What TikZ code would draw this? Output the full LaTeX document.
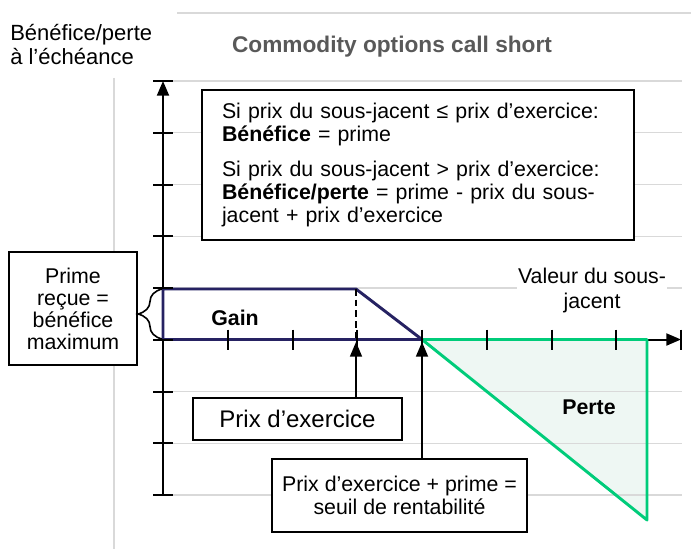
\documentclass[tikz,border=0pt]{standalone}
\usepackage{fontspec}
\setmainfont{Liberation Sans}
\usetikzlibrary{arrows.meta, calc, positioning, decorations.pathreplacing}
\definecolor{gridgray}{RGB}{217,217,217}
\definecolor{titlegray}{RGB}{89,89,89}
\definecolor{navyline}{RGB}{38,34,98}
\definecolor{lossgreen}{RGB}{0,204,122}
\definecolor{lossfill}{RGB}{238,247,243}

\begin{document}
\begin{tikzpicture}[x=0.75pt, y=-0.75pt,
  gridline/.style={draw=gridgray, line width=1.1pt},
  axisline/.style={line width=1.5pt},
  tickmark/.style={line width=1.5pt},
  textbox/.style={draw, line width=1.3pt, fill=white, inner sep=0pt, align=center},
  tri/.style={-{Triangle[length=11pt,width=9pt]}},
  pointer/.style={line width=1.3pt, tri}]
\useasboundingbox (0,0) rectangle (691,549);

% chart area
\draw[gridline] (177,13) -- (691,13);
\draw[gridline] (114,78) -- (114,549);

% loss area
\fill[lossfill] (422,339.5) -- (647,339.5) -- (647,520) -- cycle;
\foreach \i in {0,...,8} \draw[gridline] (163,81+51.75*\i) -- (682,81+51.75*\i);

% axes
\draw[axisline, tri] (163,495) -- (163,81);
\draw[axisline, tri] (163,339.5) -- (681,339.5);

\draw[lossgreen, line width=2.2pt, line join=round] (422,339.5) -- (647,339.5) -- (647,520) -- cycle;
\draw[navyline, line width=2.2pt, line join=round] (163,289) -- (356,289) -- (422,339.5) -- (163,339.5) -- cycle;
\draw[dash pattern=on 5pt off 3pt, line width=1.5pt] (356,289) -- (356,339.5);

\foreach \i in {0,...,8} \draw[tickmark] (153,81+51.75*\i) -- (173,81+51.75*\i);
\foreach \i in {1,...,8} \draw[tickmark] (163+64.75*\i,329.5) -- (163+64.75*\i,349.5);

% labels
\node[font=\bfseries\fontsize{17}{20}\selectfont, text=titlegray] (title) at (392,47) {Commodity options call short};
\node[align=left, anchor=west, inner sep=0pt, font=\fontsize{16.5}{18}\selectfont] (ylabel) at (10,45) {Bénéfice/perte\\à l’échéance};
\node[fill=white, inner sep=1pt, align=center, font=\fontsize{16}{18.75}\selectfont] (xlabel) at (592,290) {Valeur du sous-\\jacent};
\node[font=\bfseries\fontsize{16}{19}\selectfont] (gain) at (235,318) {Gain};
\node[font=\bfseries\fontsize{16}{19}\selectfont] (perte) at (589,407) {Perte};

% boxes
\node[textbox, minimum width=324pt, minimum height=112.5pt, text width=294pt, align=left,
  font=\fontsize{16}{17.25}\selectfont] (rulebox) at (418,165)
  {Si prix du sous-jacent ≤ prix d’exercice:\\\textbf{Bénéfice} = prime\\[9.5pt]
   Si prix du sous-jacent > prix d’exercice:\\\textbf{Bénéfice/perte} = prime - prix du sous-\\jacent + prix d’exercice};
\node[textbox, minimum width=96pt, minimum height=84.75pt, font=\fontsize{16}{16.5}\selectfont] (primebox) at (73,308.5)
  {Prime\\reçue =\\bénéfice\\maximum};
\node[textbox, minimum width=156.75pt, minimum height=31.5pt, font=\fontsize{18}{21}\selectfont] (strikebox) at (297.5,419)
  {Prix d’exercice};
\node[textbox, minimum width=191.25pt, minimum height=54.75pt, font=\fontsize{16}{17.25}\selectfont] (breakbox) at (399.5,495.5)
  {Prix d’exercice + prime =\\seuil de rentabilité};

% pointers
\coordinate (striketip) at (356,342);
\coordinate (breaktip) at (422,342);
\draw[pointer] (strikebox.north -| striketip) -- (striketip);
\draw[pointer] (breakbox.north -| breaktip) -- (breaktip);
\draw[decorate, decoration={brace, amplitude=18pt}, line width=1.2pt] (162,339) -- (162,289);
\end{tikzpicture}
\end{document}
